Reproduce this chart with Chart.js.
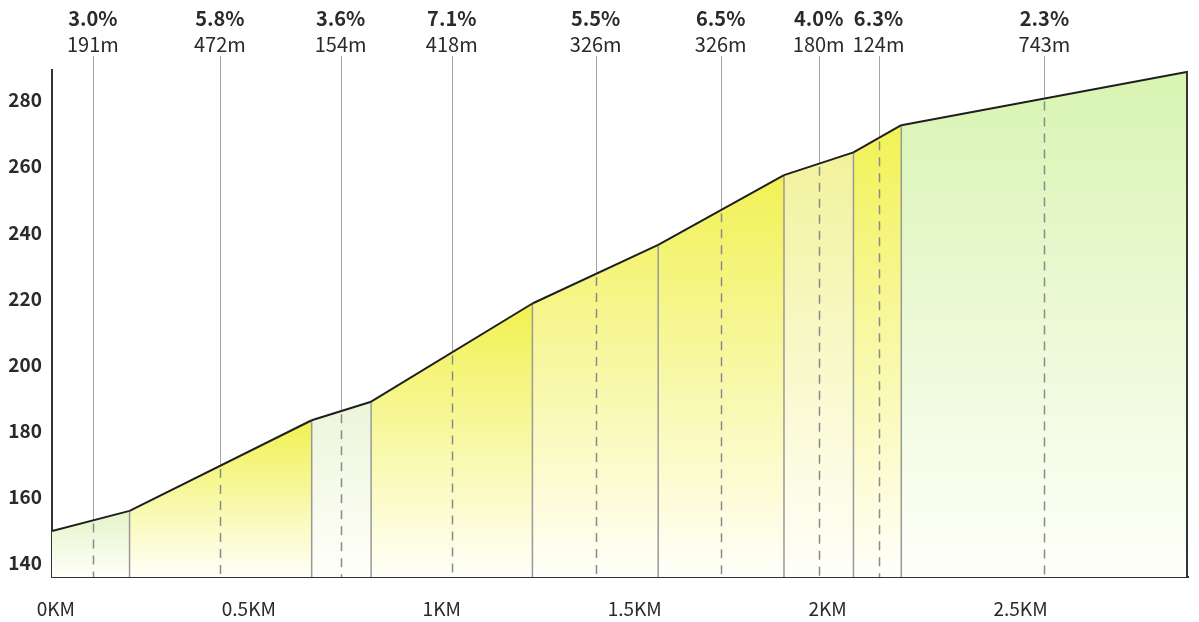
<!DOCTYPE html>
<html>
<head>
<meta charset="utf-8">
<script src="https://cdn.jsdelivr.net/npm/chart.js@4.4.1/dist/chart.umd.min.js"></script>
<style>
html, body { margin: 0; padding: 0; background: #fff; }
#wrap { width: 1199px; height: 622px; }
</style>
</head>
<body>
<div id="wrap"><canvas id="profileChart"></canvas></div>
<script>
// segment boundaries (km) and elevation (m) at each boundary
const boundaryKm = [-0.01, 0.191, 0.663, 0.817, 1.235, 1.561, 1.887, 2.067, 2.191, 2.934];
const elevations = [149.7, 155.8, 183.2, 188.8, 218.5, 236.2, 257.3, 264.2, 272.4, 288.6];
// per segment labels
const grades = ['3.0%', '5.8%', '3.6%', '7.1%', '5.5%', '6.5%', '4.0%', '6.3%', '2.3%'];
const lengths = ['191m', '472m', '154m', '418m', '326m', '326m', '180m', '124m', '743m'];
const markerKm = [0.096, 0.425, 0.738, 1.026, 1.399, 1.723, 1.977, 2.132, 2.562];
const segmentColors = ['#e4f4c8', '#f1f150', '#ecf5da', '#f1f150', '#f3f372', '#f1f155', '#f2f29c', '#f2f255', '#d8f4b2'];
const xTicks = [0, 0.5, 1, 1.5, 2, 2.5];
const yTicks = [140, 160, 180, 200, 220, 240, 260, 280];

const FONT = '"Noto Sans CJK SC", "Noto Sans", sans-serif';

function elevationAt(km) {
    for (let i = 0; i < boundaryKm.length - 1; i++) {
        if (km >= boundaryKm[i] && km <= boundaryKm[i + 1]) {
            const t = (km - boundaryKm[i]) / (boundaryKm[i + 1] - boundaryKm[i]);
            return elevations[i] + t * (elevations[i + 1] - elevations[i]);
        }
    }
    return elevations[elevations.length - 1];
}

const datasets = grades.map((g, i) => ({
    label: g,
    data: [{ x: boundaryKm[i], y: elevations[i] }, { x: boundaryKm[i + 1], y: elevations[i + 1] }],
    borderColor: '#1e1e1e',
    borderWidth: 2,
    pointRadius: 0,
    tension: 0,
    fill: 'start',
    backgroundColor: function (context) {
        const chart = context.chart;
        if (!chart.chartArea) return segmentColors[i];
        const top = chart.scales.y.getPixelForValue(Math.max(elevations[i], elevations[i + 1]));
        const grad = chart.ctx.createLinearGradient(0, top, 0, chart.chartArea.bottom);
        grad.addColorStop(0, segmentColors[i]);
        grad.addColorStop(1, '#fffffa');
        return grad;
    }
}));

const profileMarks = {
    id: 'profileMarks',
    beforeDatasetsDraw(chart) {
        const { ctx, chartArea, scales: { x, y } } = chart;
        ctx.save();
        ctx.strokeStyle = '#999';
        ctx.lineWidth = 1.5;
        for (let i = 1; i < boundaryKm.length - 1; i++) {
            const px = x.getPixelForValue(boundaryKm[i]);
            ctx.beginPath();
            ctx.moveTo(px, y.getPixelForValue(elevations[i]));
            ctx.lineTo(px, chartArea.bottom);
            ctx.stroke();
        }
        markerKm.forEach(km => {
            const px = Math.round(x.getPixelForValue(km)) + 0.5;
            const py = y.getPixelForValue(elevationAt(km));
            ctx.strokeStyle = '#a3a3a3';
            ctx.lineWidth = 1;
            ctx.setLineDash([]);
            ctx.beginPath();
            ctx.moveTo(px, 56);
            ctx.lineTo(px, py);
            ctx.stroke();
            ctx.strokeStyle = '#8a8a8a';
            ctx.lineWidth = 1.5;
            ctx.setLineDash([9, 7]);
            ctx.beginPath();
            ctx.moveTo(px, py + 3);
            ctx.lineTo(px, chartArea.bottom);
            ctx.stroke();
        });
        ctx.restore();
    },
    afterDatasetsDraw(chart) {
        const { ctx, chartArea, scales: { x, y } } = chart;
        const last = boundaryKm.length - 1;
        ctx.save();
        ctx.strokeStyle = '#333';
        ctx.lineWidth = 2;
        ctx.beginPath();
        ctx.moveTo(x.getPixelForValue(boundaryKm[last]) - 1, y.getPixelForValue(elevations[last]));
        ctx.lineTo(x.getPixelForValue(boundaryKm[last]) - 1, chartArea.bottom);
        ctx.stroke();

        ctx.fillStyle = '#2a2a2a';
        ctx.textAlign = 'center';
        ctx.textBaseline = 'middle';
        markerKm.forEach((km, i) => {
            const px = x.getPixelForValue(km);
            ctx.font = 'bold 20px ' + FONT;
            ctx.fillText(grades[i], px, 18);
            ctx.font = '20px ' + FONT;
            ctx.fillText(lengths[i], px, 44);
        });
        ctx.restore();
    }
};

new Chart(document.getElementById('profileChart'), {
    type: 'line',
    data: { datasets: datasets },
    options: {
        responsive: true,
        maintainAspectRatio: false,
        animation: false,
        layout: { padding: { top: 70, right: 11, left: 0, bottom: 0 } },
        plugins: {
            legend: { display: false },
            tooltip: { enabled: false },
            filler: { drawTime: 'beforeDatasetsDraw' }
        },
        scales: {
            x: {
                type: 'linear',
                min: boundaryKm[0],
                max: boundaryKm[boundaryKm.length - 1],
                z: 1,
                grid: { display: false, drawTicks: false },
                border: { display: true, color: '#333', width: 2 },
                afterBuildTicks: scale => { scale.ticks = xTicks.map(v => ({ value: v })); },
                afterFit: scale => { scale.height = 45; },
                ticks: {
                    padding: 20,
                    color: '#2a2a2a',
                    font: { family: FONT, size: 19 },
                    maxRotation: 0,
                    callback: v => v + 'KM'
                }
            },
            y: {
                min: 135.8,
                max: 289.1,
                z: 1,
                grid: { display: false, drawTicks: false },
                border: { display: true, color: '#333', width: 2 },
                afterBuildTicks: scale => { scale.ticks = yTicks.map(v => ({ value: v })); },
                afterFit: scale => { scale.width = 52; },
                ticks: {
                    padding: 10,
                    color: '#2a2a2a',
                    font: { family: FONT, size: 19, weight: 'bold' }
                }
            }
        }
    },
    plugins: [profileMarks]
});
</script>
</body>
</html>
